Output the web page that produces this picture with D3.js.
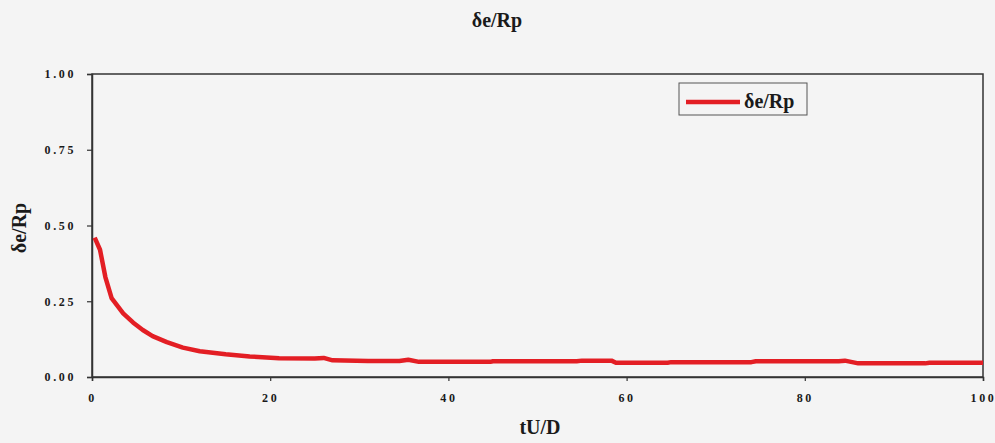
<!DOCTYPE html>
<html>
<head>
<meta charset="utf-8">
<script src="https://cdn.jsdelivr.net/npm/d3@7"></script>
<style>
  body { margin: 0; background: #f4f4f4; }
  svg { display: block; font-family: "Liberation Serif", "Times New Roman", serif; font-weight: bold; }
</style>
</head>
<body>
<svg id="chart" width="995" height="443"></svg>
<script>
// Data
const seriesName = 'δe/Rp';
const tValues = [0.3, 0.9, 1.5, 2.2, 3.5, 4.6, 5.7, 6.8, 8.4, 10.2, 12.1, 15, 17.7, 21, 25, 26, 27, 31, 34.5, 35.5,
  36.7, 44.7, 45, 54.4, 55, 58.3, 58.8, 64.6, 65, 74, 74.5, 83.8, 84.5, 86, 93.5, 94, 100];
const deValues = [0.46, 0.42, 0.33, 0.26, 0.21, 0.18, 0.155, 0.135, 0.115, 0.097, 0.085, 0.075, 0.068, 0.062, 0.061, 0.063, 0.055, 0.053, 0.053, 0.057,
  0.05, 0.05, 0.052, 0.052, 0.054, 0.054, 0.047, 0.047, 0.049, 0.049, 0.052, 0.052, 0.054, 0.045, 0.045, 0.047, 0.047];
const xTicks = [0, 20, 40, 60, 80, 100];
const yTicks = [0, 0.25, 0.5, 0.75, 1];

const margin = { top: 74, right: 12, bottom: 66, left: 92 };
const width = 995, height = 443;
const svg = d3.select('#chart');

const x = d3.scaleLinear().domain([0, 100]).range([margin.left, width - margin.right]);
const y = d3.scaleLinear().domain([0, 1]).range([height - margin.bottom, margin.top]);

// plot frame
svg.append('rect')
  .attr('x', x(0)).attr('y', y(1))
  .attr('width', x(100) - x(0)).attr('height', y(0) - y(1))
  .attr('fill', 'none').attr('stroke', '#333').attr('stroke-width', 1.5);

// axes
const xAxis = svg.append('g')
  .attr('transform', `translate(0,${y(0)})`)
  .call(d3.axisBottom(x).tickValues(xTicks).tickSize(4).tickPadding(12));
const yAxis = svg.append('g')
  .attr('transform', `translate(${x(0)},0)`)
  .call(d3.axisLeft(y).tickValues(yTicks).tickSize(5).tickPadding(11).tickFormat(d3.format('.2f')));

[xAxis, yAxis].forEach(g => {
  g.select('.domain').attr('stroke', '#333').attr('stroke-width', 1.5);
  g.selectAll('.tick line').attr('stroke', '#333').attr('stroke-width', 1.2);
  g.selectAll('.tick text')
    .attr('fill', '#1a1a1a')
    .style('font-family', '"Liberation Serif", serif')
    .style('font-weight', 'bold')
    .style('font-size', '12px')
    .style('letter-spacing', '2.6px');
});

// curve
const data = tValues.map((t, i) => ({ t: t, v: deValues[i] }));
svg.append('path')
  .datum(data)
  .attr('fill', 'none')
  .attr('stroke', '#e31e24')
  .attr('stroke-width', 4.5)
  .attr('stroke-linejoin', 'round')
  .attr('d', d3.line().x(d => x(d.t)).y(d => y(d.v)));

// titles
svg.append('text')
  .attr('x', 497).attr('y', 27)
  .attr('text-anchor', 'middle')
  .style('font-size', '20px')
  .attr('fill', '#1a1a1a')
  .text(seriesName);

svg.append('text')
  .attr('x', 540).attr('y', 434)
  .attr('text-anchor', 'middle')
  .style('font-size', '20px')
  .attr('fill', '#1a1a1a')
  .text('tU/D');

svg.append('text')
  .attr('transform', 'translate(26,228) rotate(-90)')
  .attr('text-anchor', 'middle')
  .style('font-size', '20px')
  .attr('fill', '#1a1a1a')
  .text(seriesName);

// legend
const legend = svg.append('g').attr('transform', 'translate(679,83)');
legend.append('rect')
  .attr('width', 128).attr('height', 32)
  .attr('fill', '#f4f4f4').attr('stroke', '#555').attr('stroke-width', 1);
legend.append('line')
  .attr('x1', 7).attr('x2', 61).attr('y1', 19).attr('y2', 19)
  .attr('stroke', '#e31e24').attr('stroke-width', 4.5);
legend.append('text')
  .attr('x', 65).attr('y', 25)
  .style('font-size', '20px')
  .attr('fill', '#1a1a1a')
  .text(seriesName);
</script>
</body>
</html>
